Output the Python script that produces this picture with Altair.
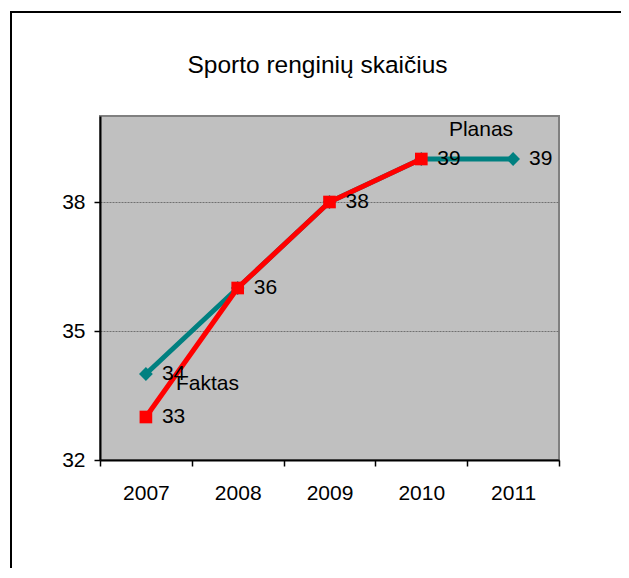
import altair as alt
import pandas as pd

years = [2007, 2008, 2009, 2010, 2011]
planas = [34, 36, 38, 39, 39]
faktas = [33, 36, 38, 39, None]

TITLE = "Sporto renginių skaičius"
FONT = "Liberation Sans"
TEAL = "#008080"
RED = "#FF0000"
FS = 21

df = pd.DataFrame({"year": years, "Planas": planas, "Faktas": faktas})
df_f = df.dropna(subset=["Faktas"])

xscale = alt.Scale(domain=[2006.5, 2011.5], nice=False, zero=False)
yscale = alt.Scale(domain=[32, 40], nice=False, zero=False)

xaxis = alt.Axis(
    values=[2006.5, 2007.5, 2008.5, 2009.5, 2010.5, 2011.5],
    labelExpr="datum.value < 2011 ? format(datum.value + 0.5, 'd') : ''",
    labelOffset=45.9,
    labelFlush=False,
    labelPadding=16,
    labelFontSize=FS,
    labelFont=FONT,
    labelColor="black",
    tickSize=6,
    tickColor="black",
    tickWidth=1.5,
    domainColor="black",
    domainWidth=2,
    grid=False,
    title=None,
)
yaxis = alt.Axis(
    values=[32, 35, 38],
    labelPadding=9,
    labelFontSize=FS,
    labelFont=FONT,
    labelColor="black",
    tickSize=6,
    tickColor="black",
    tickWidth=1.5,
    domainColor="black",
    domainWidth=2,
    grid=True,
    gridColor="#707070",
    gridDash=[2, 1],
    gridWidth=1,
    title=None,
)

base = alt.Chart(df)

planas_line = base.mark_line(color=TEAL, strokeWidth=5).encode(
    x=alt.X("year:Q", scale=xscale, axis=xaxis),
    y=alt.Y("Planas:Q", scale=yscale, axis=yaxis),
)
planas_pts = base.mark_point(shape="diamond", filled=True, color=TEAL, size=190, opacity=1).encode(
    x="year:Q", y="Planas:Q"
)
planas_lbl = base.mark_text(align="left", baseline="middle", dx=16, fontSize=FS, font=FONT, color="black").encode(
    x="year:Q", y="Planas:Q", text=alt.Text("Planas:Q", format="d")
)

fbase = alt.Chart(df_f)
faktas_line = fbase.mark_line(color=RED, strokeWidth=5).encode(x="year:Q", y="Faktas:Q")
faktas_pts = fbase.mark_point(shape="square", filled=True, color=RED, size=160, opacity=1).encode(
    x="year:Q", y="Faktas:Q"
)
faktas_lbl = fbase.transform_filter("datum.Faktas != datum.Planas").mark_text(
    align="left", baseline="middle", dx=16, fontSize=FS, font=FONT, color="black"
).encode(x="year:Q", y="Faktas:Q", text=alt.Text("Faktas:Q", format="d"))

faktas_name = fbase.transform_filter("datum.year == 2007").transform_calculate(name="'Faktas'").mark_text(
    align="left", baseline="middle", dx=30, dy=-33, fontSize=FS, font=FONT, color="black"
).encode(x="year:Q", y="Faktas:Q", text="name:N")
planas_name = base.transform_filter("datum.year == 2011").transform_calculate(name="'Planas'").mark_text(
    align="right", baseline="middle", dx=0, dy=-29, fontSize=FS, font=FONT, color="black"
).encode(x="year:Q", y="Planas:Q", text="name:N")

one = alt.Data(values=[{"t": TITLE}])
title_mark = alt.Chart(one).mark_text(
    align="center", baseline="alphabetic", fontSize=24.5, font=FONT, color="black"
).encode(x=alt.value(217.5), y=alt.value(-43), text="t:N")

border = alt.Chart(alt.Data(values=[{}])).mark_rect(
    fillOpacity=0, stroke="black", strokeWidth=2
).encode(
    x=alt.value(-89), x2=alt.value(700), y=alt.value(-104), y2=alt.value(700)
)

chart = alt.layer(
    planas_line, planas_pts, faktas_line, faktas_pts,
    planas_lbl, faktas_lbl, faktas_name, planas_name, title_mark, border,
).properties(
    width=459,
    height=344,
    autosize=alt.AutoSizeParams(type="none"),
    padding={"left": 92, "top": 108, "right": 62, "bottom": 108},
).configure_view(
    fill="#C0C0C0", stroke="#808080", strokeWidth=2
)

chart.save("out.html", embed_options={"renderer": "svg", "actions": False})
